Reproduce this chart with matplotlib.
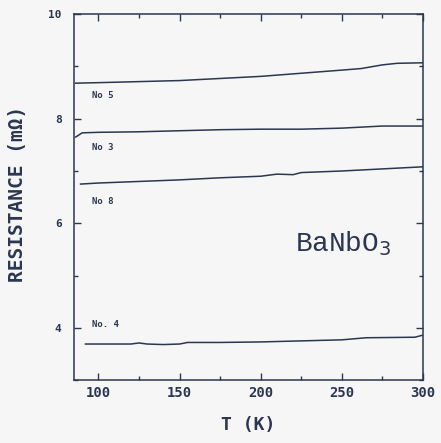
import matplotlib.pyplot as plt
import matplotlib.ticker as mticker

# R(T) data for BaNbO3 samples
T5 = [86, 100, 125, 150, 175, 200, 225, 250, 262, 275, 284, 300]
R5 = [8.68, 8.69, 8.71, 8.73, 8.77, 8.81, 8.87, 8.93, 8.96, 9.03, 9.06, 9.07]

T3 = [86, 90, 100, 125, 150, 175, 200, 225, 250, 275, 300]
R3 = [7.65, 7.73, 7.74, 7.75, 7.77, 7.79, 7.80, 7.80, 7.82, 7.86, 7.86]

T8 = [89, 100, 125, 150, 175, 200, 210, 220, 225, 250, 275, 300]
R8 = [6.75, 6.77, 6.80, 6.83, 6.87, 6.90, 6.94, 6.93, 6.97, 7.00, 7.04, 7.08]

T4 = [92, 100, 120, 125, 130, 140, 150, 155, 175, 200, 250, 265, 295, 300]
R4 = [3.69, 3.69, 3.69, 3.71, 3.69, 3.68, 3.69, 3.72, 3.72, 3.73, 3.77, 3.81, 3.82, 3.86]

labels = ['No 5', 'No 3', 'No 8', 'No. 4']
label_pos = [(96, 8.44), (96, 7.44), (96, 6.42), (96, 4.06)]

ink = '#2b3650'
bg = '#f6f6f6'

fig = plt.figure(figsize=(4.41, 4.43), dpi=100, facecolor=bg)
ax = fig.add_axes([0.168, 0.142, 0.791, 0.826], facecolor=bg)

for T, R in [(T5, R5), (T3, R3), (T8, R8), (T4, R4)]:
    ax.plot(T, R, color=ink, lw=1.1)

for txt, (x, y) in zip(labels, label_pos):
    ax.text(x, y, txt, color=ink, fontsize=6.5, fontweight='bold',
            family='DejaVu Sans Mono', va='center', ha='left')

ax.text(221, 5.62, r'BaNbO$_3$', color=ink, fontsize=20,
        family='Liberation Mono', va='center', ha='left')

ax.set_xlim(85, 300)
ax.set_ylim(3, 10)
ax.xaxis.set_major_locator(mticker.MultipleLocator(50))
ax.xaxis.set_minor_locator(mticker.MultipleLocator(25))
ax.yaxis.set_major_locator(mticker.MultipleLocator(2))
ax.yaxis.set_minor_locator(mticker.MultipleLocator(1))
ax.tick_params(which='both', direction='in', top=True, right=True, colors=ink)
ax.tick_params(which='major', length=5, width=1)
ax.tick_params(which='minor', length=3, width=1)
ax.tick_params(axis='x', labelsize=10, pad=4)
ax.tick_params(axis='y', labelsize=8, pad=9)
for lab in ax.get_xticklabels() + ax.get_yticklabels():
    lab.set_family('DejaVu Sans Mono')
    lab.set_fontweight('bold')
    lab.set_color(ink)
for sp in ax.spines.values():
    sp.set_color(ink)
    sp.set_linewidth(1.1)

ax.set_xlabel('T (K)', fontsize=13, fontweight='bold', color=ink,
              family='DejaVu Sans Mono', labelpad=12)
ax.set_ylabel('RESISTANCE (m\u03a9)', fontsize=14, fontweight='bold', color=ink,
              family='DejaVu Sans Mono')
ax.yaxis.set_label_coords(-0.135, 0.51)

fig.savefig('out.png', dpi=100, facecolor=bg)
